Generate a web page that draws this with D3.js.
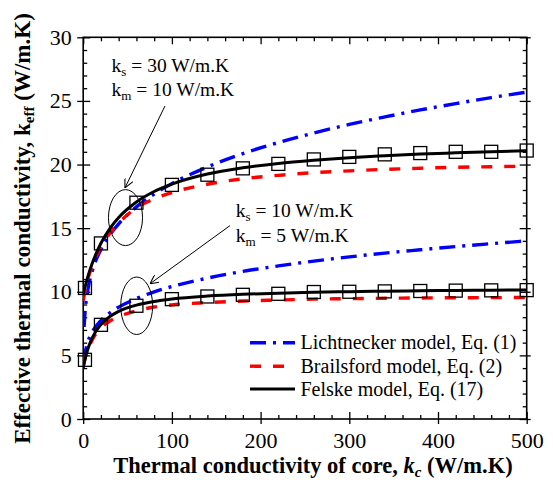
<!DOCTYPE html>
<html><head><meta charset="utf-8">
<script src="https://cdn.jsdelivr.net/npm/d3@7"></script>
<style>body{margin:0;background:#fff}svg{display:block}text{font-family:"Liberation Serif","Times New Roman",serif;fill:#000}</style>
</head><body><svg id="c" width="553" height="480"></svg>
<script>
// ---- data ----
const kcLines = [0,1,2,5,10,20,30,40,60,80,100,140,180,220,260,300,340,380,420,460,500];
// ks = 30, km = 10
const felskeHi = [9.79,10.09,10.36,11.13,12.20,13.81,14.97,15.84,17.06,17.88,18.46,19.25,19.74,20.09,20.34,20.54,20.69,20.82,20.92,21.01,21.08];
const brailsHi = [9.3,9.7,10.05,10.95,12.0,13.55,14.6,15.4,16.6,17.3,17.8,18.45,18.88,19.15,19.36,19.5,19.62,19.71,19.78,19.83,19.87];
const lichtHi  = [null,7.23,8.33,10.04,11.57,13.33,14.47,15.34,16.67,17.68,18.50,19.81,20.86,21.73,22.48,23.15,23.74,24.29,24.79,25.26,25.69];
// ks = 10, km = 5
const felskeLo = [4.00,4.35,4.67,5.44,6.35,7.43,8.05,8.46,8.95,9.24,9.43,9.66,9.80,9.89,9.96,10.01,10.05,10.08,10.10,10.12,10.14];
const brailsLo = [4.2,4.5,4.75,5.4,6.2,7.15,7.7,8.05,8.5,8.8,8.97,9.15,9.27,9.35,9.42,9.46,9.49,9.51,9.53,9.54,9.55];
const lichtLo  = [null,4.46,5.07,6.00,6.81,7.74,8.34,8.79,9.47,9.99,10.41,11.07,11.60,12.03,12.41,12.74,13.04,13.30,13.55,13.78,14.00];
// square markers
const kcMarks = [2,20,60,100,140,180,220,260,300,340,380,420,460,500];
const markHi = [10.3,13.8,17.0,18.4,19.2,19.7,20.05,20.4,20.6,20.8,20.9,21.0,21.0,21.1];
const markLo = [4.65,7.4,8.9,9.42,9.63,9.76,9.84,9.98,10.0,10.03,10.06,10.09,10.11,10.13];
const xTicks = [0,100,200,300,400,500];
const yTicks = [0,5,10,15,20,25,30];
const legendLabels = ["Lichtnecker model, Eq. (1)","Brailsford model, Eq. (2)","Felske model, Eq. (17)"];

// ---- layout ----
const svg = d3.select("#c");
const x = d3.scaleLinear().domain([0,500]).range([83.2,526.7]);
const y = d3.scaleLinear().domain([0,30]).range([419,37.3]);
const X0=x.range()[0], X1=x.range()[1], Y0=y.range()[0], Y1=y.range()[1];

svg.append("defs").append("clipPath").attr("id","clip")
  .append("rect").attr("x",X0).attr("y",Y1).attr("width",X1-X0).attr("height",Y0-Y1);

const minorX = d3.range(0,501,20).filter(v=>v%100!==0);
const minorY = d3.range(0,31,1).filter(v=>v%5!==0);

function styleAxis(g){ g.attr("font-family",null); g.select(".domain").remove(); g.selectAll("line").attr("stroke","#000").attr("stroke-width",1.3); g.selectAll("text").style("font-family","'Liberation Serif', serif").style("font-size","22px").attr("fill","#000"); }

// bottom
svg.append("g").attr("transform",`translate(0,${Y0})`).call(d3.axisBottom(x).tickValues(xTicks).tickSize(-7).tickPadding(13).tickFormat(d3.format("d"))).call(styleAxis);
svg.append("g").attr("transform",`translate(0,${Y0})`).call(d3.axisBottom(x).tickValues(xTicks).tickSize(5).tickFormat("")).call(styleAxis);
svg.append("g").attr("transform",`translate(0,${Y0})`).call(d3.axisBottom(x).tickValues(minorX).tickSize(-4).tickFormat("")).call(styleAxis);
// top
svg.append("g").attr("transform",`translate(0,${Y1})`).call(d3.axisTop(x).tickValues(xTicks).tickSize(-7).tickFormat("")).call(styleAxis);
svg.append("g").attr("transform",`translate(0,${Y1})`).call(d3.axisTop(x).tickValues(minorX).tickSize(-4).tickFormat("")).call(styleAxis);
// left
svg.append("g").attr("transform",`translate(${X0},0)`).call(d3.axisLeft(y).tickValues(yTicks).tickSize(-7).tickPadding(11.5).tickFormat(d3.format("d"))).call(styleAxis);
svg.append("g").attr("transform",`translate(${X0},0)`).call(d3.axisLeft(y).tickValues(yTicks).tickSize(6).tickFormat("")).call(styleAxis);
svg.append("g").attr("transform",`translate(${X0},0)`).call(d3.axisLeft(y).tickValues(minorY).tickSize(-4).tickFormat("")).call(styleAxis);
// right
svg.append("g").attr("transform",`translate(${X1},0)`).call(d3.axisRight(y).tickValues(yTicks).tickSize(-7).tickFormat("")).call(styleAxis);
svg.append("g").attr("transform",`translate(${X1},0)`).call(d3.axisRight(y).tickValues(yTicks).tickSize(4).tickFormat("")).call(styleAxis);
svg.append("g").attr("transform",`translate(${X1},0)`).call(d3.axisRight(y).tickValues(minorY).tickSize(-4).tickFormat("")).call(styleAxis);

// frame
svg.append("rect").attr("x",X0).attr("y",Y1).attr("width",X1-X0).attr("height",Y0-Y1)
  .attr("fill","none").attr("stroke","#000").attr("stroke-width",1.6);

// ---- curves ----
const plot = svg.append("g").attr("clip-path","url(#clip)");
const line = d3.line().defined(d=>d[1]!=null).x(d=>x(d[0])).y(d=>y(d[1])).curve(d3.curveMonotoneX);
const styles = {
  licht:{stroke:"#0000ff",dash:"16,7,3,7",w:3.4},
  brails:{stroke:"#ff0000",dash:"11,12",w:3.4},
  felske:{stroke:"#000",dash:null,w:3}
};
const series = [
  [lichtHi,"licht"],[lichtLo,"licht"],
  [brailsHi,"brails"],[brailsLo,"brails"],
  [felskeHi,"felske"],[felskeLo,"felske"]
];
series.forEach(([vals,k])=>{
  const s=styles[k];
  plot.append("path").datum(kcLines.map((kc,i)=>[kc,vals[i]]))
    .attr("d",line).attr("fill","none").attr("stroke",s.stroke).attr("stroke-width",s.w)
    .attr("stroke-dasharray",s.dash);
});
// markers
const ms=13;
[markHi,markLo].forEach(vals=>{
  svg.append("g").selectAll("rect").data(kcMarks.map((kc,i)=>[kc,vals[i]])).join("rect")
    .attr("x",d=>x(d[0])-ms/2).attr("y",d=>y(d[1])-ms/2).attr("width",ms).attr("height",ms)
    .attr("fill","none").attr("stroke","#000").attr("stroke-width",1.3);
});

// ---- annotations ----
const ann = svg.append("g");
function ellipse(cx,cy,rxData,ryData){
  ann.append("ellipse").attr("cx",x(cx)).attr("cy",y(cy))
    .attr("rx",x(rxData)-x(0)).attr("ry",y(0)-y(ryData))
    .attr("fill","none").attr("stroke","#000").attr("stroke-width",1);
}
ellipse(47.7,15.83,19.2,2.2);
ellipse(60.3,8.9,18,2.26);
svg.append("defs").append("marker").attr("id","ah").attr("viewBox","0 0 10 10").attr("refX",10).attr("refY",5)
  .attr("markerWidth",9).attr("markerHeight",9).attr("markerUnits","userSpaceOnUse").attr("orient","auto")
  .append("path").attr("d","M0,0 L10,5 L0,10").attr("fill","none").attr("stroke","#000").attr("stroke-width",1.2);
function arrow(x1,y1,x2,y2){
  ann.append("line").attr("x1",x(x1)).attr("y1",y(y1)).attr("x2",x(x2)).attr("y2",y(y2))
    .attr("stroke","#000").attr("stroke-width",1).attr("marker-end","url(#ah)");
}
arrow(92.2,24.6,47.1,18.17);
arrow(165.5,15.2,75.3,10.63);

function label(xd,yd,sub,rest){
  const t = ann.append("text").attr("x",x(xd)).attr("y",y(yd)).style("font-size","19.5px");
  t.append("tspan").text("k");
  t.append("tspan").attr("dy",4).style("font-size","13px").text(sub);
  t.append("tspan").attr("dy",-4).text(rest);
}
label(32,(419-71.7)/12.723,"s"," = 30 W/m.K");
label(32,(419-95.7)/12.723,"m"," = 10 W/m.K");
label(172,(419-217.3)/12.723,"s"," = 10 W/m.K");
label(172,(419-241.7)/12.723,"m"," = 5 W/m.K");

// ---- legend ----
const lg = svg.append("g");
const lkeys=["licht","brails","felske"];
const rowY=[342.7,366.2,389];
lkeys.forEach((k,i)=>{
  const s=styles[k];
  lg.append("line").attr("x1",250).attr("x2",295).attr("y1",rowY[i]).attr("y2",rowY[i])
    .attr("stroke",s.stroke).attr("stroke-width",s.w).attr("stroke-dasharray",s.dash);
  lg.append("text").attr("x",300.5).attr("y",rowY[i]).attr("dy","0.33em").style("font-size","20px").text(legendLabels[i]);
});

// ---- axis titles ----
const xt = svg.append("text").attr("x",313).attr("y",473).attr("text-anchor","middle")
  .style("font-size","22.5px").style("font-weight","bold");
xt.append("tspan").text("Thermal conductivity of core, ");
xt.append("tspan").style("font-style","italic").text("k");
xt.append("tspan").attr("dy",4).style("font-size","15px").style("font-style","italic").text("c");
xt.append("tspan").attr("dy",-4).text(" (W/m.K)");

const yt = svg.append("text").attr("transform","translate(30,228.5) rotate(-90)").attr("text-anchor","middle")
  .style("font-size","23px").style("font-weight","bold");
yt.append("tspan").text("Effective thermal conductivity, k");
yt.append("tspan").attr("dy",4).style("font-size","15px").text("eff");
yt.append("tspan").attr("dy",-4).text(" (W/m.K)");
</script></body></html>
